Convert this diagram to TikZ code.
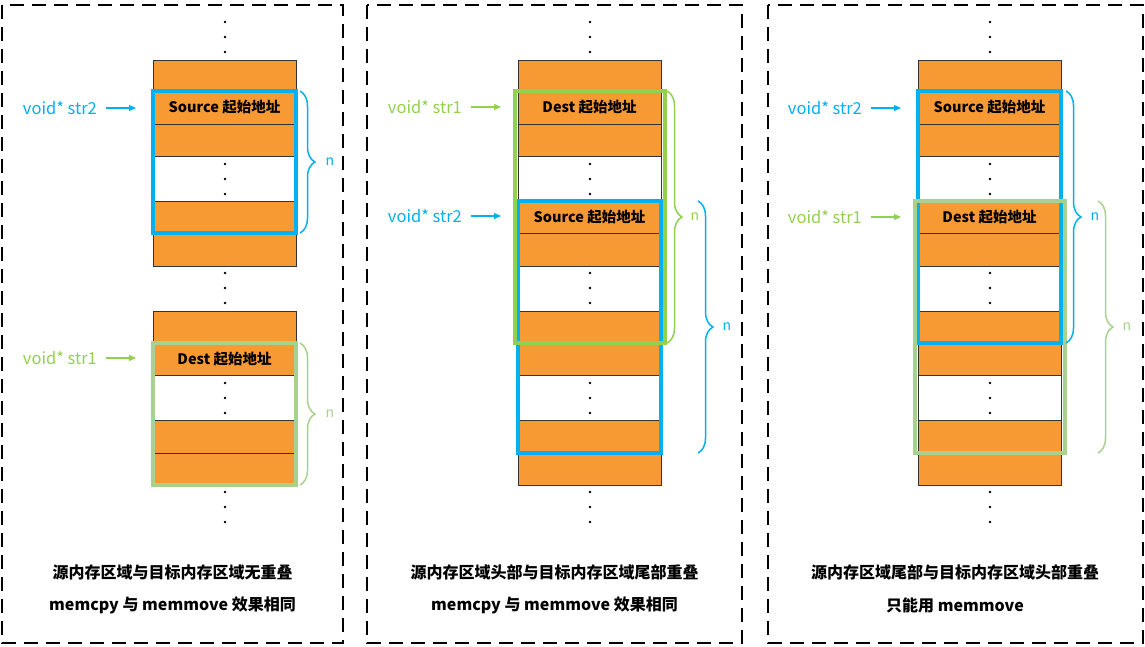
\documentclass[tikz,border=0pt]{standalone}
\usepackage{fontspec}
\setmainfont{Noto Sans CJK SC}
\usetikzlibrary{decorations.pathreplacing,arrows.meta}
\definecolor{ora}{RGB}{248,154,52}
\definecolor{cblue}{HTML}{00B0F0}
\definecolor{glight}{HTML}{A9D18E}
\definecolor{gbright}{HTML}{92D050}
\tikzset{
  cell/.style={draw=black!80, line width=0.8pt, minimum width=143pt, inner sep=0pt, outer sep=0pt,
    font=\bfseries\fontsize{14.5}{14.5}\selectfont},
  bframe/.style={draw=cblue, line width=3.5pt},
  gframe/.style={draw=#1, line width=4pt},
  brc/.style={decorate, decoration={brace, amplitude=15pt}, line width=1.5pt, draw=#1},
  lab/.style={font=\fontsize{16.5}{16.5}\selectfont, inner sep=0pt, text=#1},
  ptr/.style={draw=#1, line width=1.2pt, -{Triangle[length=7pt,width=6pt]}, shorten <=9pt, shorten >=17pt},
  nlab/.style={font=\fontsize{14}{14}\selectfont, inner sep=0pt, text=#1},
  panel/.style={draw=black, line width=2pt, dash pattern=on 14pt off 8pt},
  caption/.style={font=\bfseries\fontsize{16}{16}\selectfont, inner sep=0pt},
}
\begin{document}
\begin{tikzpicture}[x=1pt,y=-1pt]
\useasboundingbox (0,0) rectangle (1145,646);

% ---------- Panel 1 cells ----------
\foreach \n/\c/\h/\f/\t in {1/75.5/31/ora/, 2/107.5/33/ora/Source 起始地址, 3/140/32/ora/, 4/178.5/45/white/,
  5/217/32/ora/, 6/249.5/33/ora/, 8/327/32/ora/, 9/359/32/ora/Dest 起始地址, 10/397.5/45/white/,
  11/436.5/33/ora/, 12/469/32/ora/}
  {\node[cell, fill=\f, minimum height=\h pt] (p1r\n) at (224.5,\c) {\t};}

% ---------- Panel 2 cells ----------
\foreach \n/\c/\h/\f/\t in {1/75.5/31/ora/, 2/107.5/33/ora/Dest 起始地址, 3/140/32/ora/, 4/178.5/45/white/,
  5/217/32/ora/Source 起始地址, 6/249.5/33/ora/, 7/288.5/45/white/, 8/327/32/ora/, 9/359/32/ora/, 10/397.5/45/white/,
  11/436.5/33/ora/, 12/469/32/ora/}
  {\node[cell, fill=\f, minimum height=\h pt] (p2r\n) at (589.5,\c) {\t};}

% ---------- Panel 3 cells ----------
\foreach \n/\c/\h/\f/\t in {1/75.5/31/ora/, 2/107.5/33/ora/Source 起始地址, 3/140/32/ora/, 4/178.5/45/white/,
  5/217/32/ora/Dest 起始地址, 6/249.5/33/ora/, 7/288.5/45/white/, 8/327/32/ora/, 9/359/32/ora/, 10/397.5/45/white/,
  11/436.5/33/ora/, 12/469/32/ora/}
  {\node[cell, fill=\f, minimum height=\h pt] (p3r\n) at (989.5,\c) {\t};}

% ---------- dots ----------
\foreach \x in {225,590,990}
  \foreach \y in {22,37,52,164,179,194,273,288,303,383,398,413,492,507,522}
    \fill (\x,\y) circle (1.4pt);

% ---------- frames ----------
\draw[bframe] (p1r2.north west) rectangle (p1r5.south east);
\draw[gframe=glight] (p1r9.north west) rectangle (p1r12.south east);

\draw[bframe] (p2r5.north west) rectangle (p2r11.south east);
\draw[gframe=gbright] ([xshift=-3pt]p2r2.north west) rectangle ([xshift=4pt]p2r8.south east);

\draw[bframe] (p3r2.north west) rectangle (p3r8.south east);
\draw[gframe=glight] ([xshift=-3pt]p3r5.north west) rectangle ([xshift=4pt]p3r11.south east);

% ---------- braces ----------
\draw[brc=cblue] ([xshift=4pt]p1r2.north east) -- ([xshift=4pt]p1r5.south east);
\node[nlab=cblue] (n1a) at (330,162) {n};
\draw[brc=glight] ([xshift=4pt]p1r9.north east) -- ([xshift=4pt]p1r12.south east);
\node[nlab=glight] (n1b) at (330,414) {n};

\draw[brc=gbright] ([xshift=6pt]p2r2.north east) -- ([xshift=6pt]p2r8.south east);
\node[nlab=gbright] (n2a) at (695,217) {n};
\draw[brc=cblue] ([xshift=37pt]p2r5.north east) -- ([xshift=37pt]p2r11.south east);
\node[nlab=cblue] (n2b) at (727,327) {n};

\draw[brc=cblue] ([xshift=5pt]p3r2.north east) -- ([xshift=5pt]p3r8.south east);
\node[nlab=cblue] (n3a) at (1095,217) {n};
\draw[brc=glight] ([xshift=37pt]p3r5.north east) -- ([xshift=37pt]p3r11.south east);
\node[nlab=glight] (n3b) at (1127,327) {n};

% ---------- pointer labels ----------
\node[lab=cblue, anchor=east] (l1s2) at (97,108) {void* str2};
\draw[ptr=cblue] (l1s2.east) -- (l1s2.east -| p1r2.west);
\node[lab=gbright, anchor=east] (l1s1) at (97,358) {void* str1};
\draw[ptr=gbright] (l1s1.east) -- (l1s1.east -| p1r9.west);

\node[lab=gbright, anchor=east] (l2s1) at (462,107) {void* str1};
\draw[ptr=gbright] (l2s1.east) -- (l2s1.east -| p2r2.west);
\node[lab=cblue, anchor=east] (l2s2) at (462,216) {void* str2};
\draw[ptr=cblue] (l2s2.east) -- (l2s2.east -| p2r5.west);

\node[lab=cblue, anchor=east] (l3s2) at (862,108) {void* str2};
\draw[ptr=cblue] (l3s2.east) -- (l3s2.east -| p3r2.west);
\node[lab=gbright, anchor=east] (l3s1) at (862,217) {void* str1};
\draw[ptr=gbright] (l3s1.east) -- (l3s1.east -| p3r5.west);

% ---------- captions ----------
\node[caption] (c1a) at (172.5,572) {源内存区域与目标内存区域无重叠};
\node[caption] (c1b) at (172.5,605) {memcpy 与 memmove 效果相同};
\node[caption] (c2a) at (554.5,572) {源内存区域头部与目标内存区域尾部重叠};
\node[caption] (c2b) at (554.5,605) {memcpy 与 memmove 效果相同};
\node[caption] (c3a) at (955,572) {源内存区域尾部与目标内存区域头部重叠};
\node[caption] (c3b) at (955,605) {只能用 memmove};

% ---------- panels ----------
\draw[panel] (2,5) rectangle (343,643);
\draw[panel] (367,5) rectangle (742,643);
\draw[panel] (768,5) rectangle (1143,643);
\end{tikzpicture}
\end{document}
